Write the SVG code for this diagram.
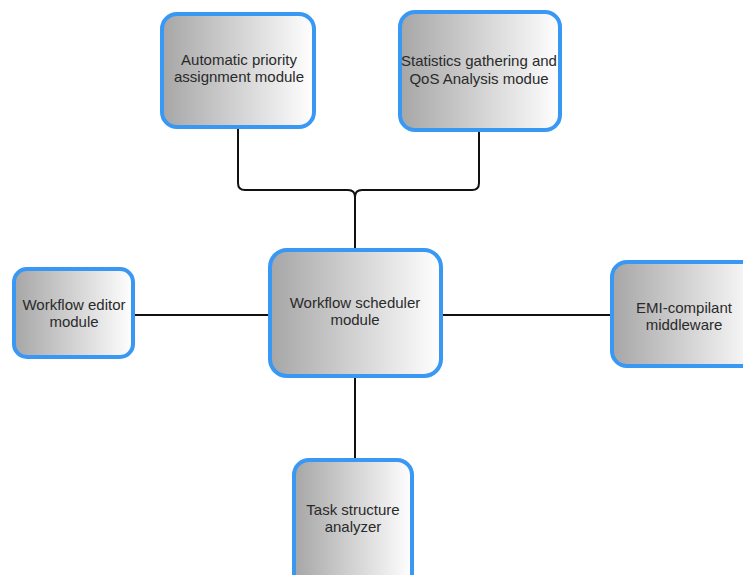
<svg xmlns="http://www.w3.org/2000/svg" width="743" height="575" viewBox="0 0 743 575">
  <defs>
    <linearGradient id="boxFill" x1="0" y1="0" x2="1" y2="0">
      <stop offset="0" stop-color="#a6a6a6"/>
      <stop offset="1" stop-color="#ffffff"/>
    </linearGradient>
  </defs>
  <style>
    .box { fill: url(#boxFill); stroke: #3a98f5; stroke-width: 4; }
    .label { font-family: "Liberation Sans", Arial, sans-serif; font-size: 15px; fill: #2a2a2a; text-anchor: middle; }
    .wire { fill: none; stroke: #111; stroke-width: 2; }
  </style>
  <rect width="743" height="575" fill="#ffffff"/>

  <!-- connectors -->
  <g id="connectors">
    <path class="wire" d="M238,129 V183 Q238,190 245,190 H348 Q355,190 355,197"/>
    <path class="wire" d="M479,132 V183 Q479,190 472,190 H362 Q355,190 355,197"/>
    <path class="wire" d="M355,197 V250"/>
    <path class="wire" d="M134,315 H270"/>
    <path class="wire" d="M441,315 H612"/>
    <path class="wire" d="M355,376 V460"/>
  </g>

  <g id="priority-module">
    <rect class="box" x="162" y="14" width="152" height="113" rx="15"/>
    <text class="label" x="239" y="65">Automatic priority</text>
    <text class="label" x="239" y="82">assignment module</text>
  </g>

  <g id="statistics-module">
    <rect class="box" x="400" y="12" width="160" height="118" rx="15"/>
    <text class="label" x="479" y="66">Statistics gathering and</text>
    <text class="label" x="479" y="84">QoS Analysis modue</text>
  </g>

  <g id="editor-module">
    <rect class="box" x="14" y="269" width="119" height="88" rx="13"/>
    <text class="label" x="74" y="310">Workflow editor</text>
    <text class="label" x="74" y="327">module</text>
  </g>

  <g id="scheduler-module">
    <rect class="box" x="270" y="250" width="171" height="126" rx="17"/>
    <text class="label" x="355" y="308">Workflow scheduler</text>
    <text class="label" x="355" y="325">module</text>
  </g>

  <g id="middleware">
    <rect class="box" x="612" y="262" width="150" height="104" rx="15"/>
    <text class="label" x="684" y="313">EMI-compilant</text>
    <text class="label" x="684" y="330">middleware</text>
  </g>

  <g id="task-analyzer">
    <rect class="box" x="294" y="460" width="118" height="130" rx="15"/>
    <text class="label" x="353" y="515">Task structure</text>
    <text class="label" x="353" y="532">analyzer</text>
  </g>
</svg>
